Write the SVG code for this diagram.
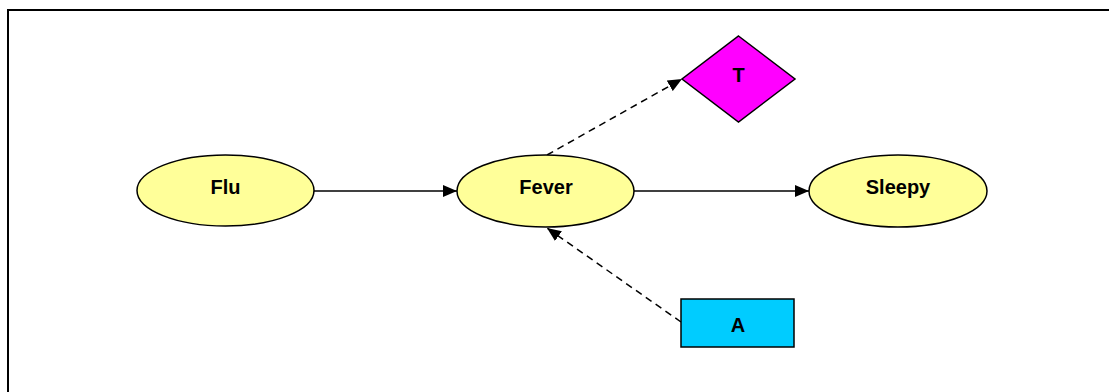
<svg xmlns="http://www.w3.org/2000/svg" width="1109" height="392" viewBox="0 0 1109 392">
<style>
.node{stroke:#000;stroke-width:1.5}
.ell{fill:#FFFF99}
.lbl{font-family:"Liberation Sans",Arial,sans-serif;font-weight:bold;font-size:20px;text-anchor:middle;fill:#000}
.edge{stroke:#000;stroke-width:1.5;fill:none}
.dash{stroke-dasharray:7 5}
</style>
<defs>
<marker id="arr" viewBox="0 0 14 12" refX="14" refY="6" markerWidth="14" markerHeight="12" markerUnits="userSpaceOnUse" orient="auto">
<path d="M0,0 L14,6 L0,12 Z" fill="#000"/>
</marker>
</defs>
<rect x="0" y="0" width="1109" height="392" fill="#fff"/>
<path d="M8,400 L8,10 L1120,10" fill="none" stroke="#000" stroke-width="2"/>
<g id="connectors">
<line class="edge" x1="314" y1="191" x2="457" y2="191" marker-end="url(#arr)"/>
<line class="edge" x1="634" y1="191" x2="809" y2="191" marker-end="url(#arr)"/>
<line class="edge dash" x1="547" y1="155" x2="682" y2="79" marker-end="url(#arr)"/>
<line class="edge dash" x1="681" y1="322" x2="547" y2="228" marker-end="url(#arr)"/>
</g>
<g id="node-flu">
<ellipse class="node ell" cx="225.5" cy="190.5" rx="88.5" ry="35.5"/>
<text class="lbl" x="225.5" y="193.5">Flu</text>
</g>
<g id="node-fever">
<ellipse class="node ell" cx="545.5" cy="191" rx="88.5" ry="36"/>
<text class="lbl" x="546" y="193.5">Fever</text>
</g>
<g id="node-sleepy">
<ellipse class="node ell" cx="898" cy="191" rx="89" ry="36"/>
<text class="lbl" x="898" y="193.5">Sleepy</text>
</g>
<g id="node-t">
<polygon class="node" fill="#FF00FF" points="738.5,36 795,79 738.5,122 682,79"/>
<text class="lbl" x="738.5" y="82">T</text>
</g>
<g id="node-a">
<rect class="node" fill="#00CCFF" x="681" y="299" width="113" height="48"/>
<text class="lbl" x="738" y="332">A</text>
</g>
</svg>
